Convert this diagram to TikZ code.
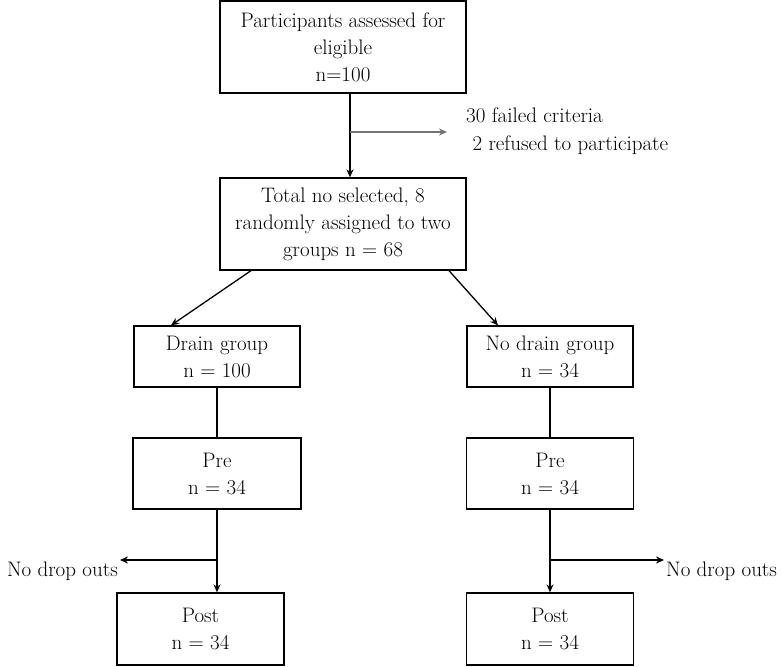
\documentclass[tikz,border=0pt]{standalone}
\usetikzlibrary{arrows.meta}
\usetikzlibrary{calc}

\begin{document}
\begin{tikzpicture}[x=1pt, y=-1pt, >={Stealth[length=8pt,width=7pt]},
  stage/.style={draw, line width=1.3pt, align=center, inner sep=0pt, font=\fontsize{21}{27}\selectfont},
  flow/.style={->, line width=1.3pt},
  side/.style={->, line width=1.3pt, draw=black!55},
  note/.style={align=left, inner sep=0pt, font=\fontsize{21}{28}\selectfont},
]
\useasboundingbox (0,0) rectangle (783,666);
\node[stage, minimum width=246pt, minimum height=92pt] (assess) at (343, 47)  {Participants assessed for\\ eligible\\ n=100};
\node[stage, minimum width=246pt, minimum height=92pt] (random) at (343, 224) {Total no selected, 8\\ randomly assigned to two\\ groups n = 68};
\node[stage, minimum width=166pt, minimum height=61pt] (drain) at (217, 356.5)  {Drain group\\ n = 100};
\node[stage, minimum width=166pt, minimum height=61pt] (nodrain) at (550, 356.5) {No drain group\\ n = 34};
\node[stage, minimum width=168pt, minimum height=71pt] (preL) at (217, 473.5) {Pre\\ n = 34};
\node[stage, minimum width=167pt, minimum height=71pt] (preR) at (550, 473.5) {Pre\\ n = 34};
\node[stage, minimum width=167pt, minimum height=72pt] (postL) at (200.5, 629) {Post\\ n = 34};
\node[stage, minimum width=167pt, minimum height=72pt] (postR) at (550, 629) {Post\\ n = 34};
% exclusions and drop outs
\coordinate (split) at (350, 132);
\coordinate (excl) at (447, 132);
\node[note, anchor=west] (why) at (466, 131) {30 failed criteria\\ \ 2 refused to participate};
\coordinate (dropL) at (217, 560);
\coordinate (dropLend) at (120, 560);
\coordinate (dropR) at (550, 560);
\coordinate (dropRend) at (664, 560);
\node[note, anchor=east] (outL) at (118, 571) {No drop outs};
\node[note, anchor=west] (outR) at (666, 571) {No drop outs};
 \draw [flow] ([xshift=7pt]assess.south)--([xshift=7pt]random.north);
 \draw [side] (split)--(excl);
  \draw [flow] ([xshift=-92pt]random.south)--([xshift=-46pt]drain.north);
  \draw [flow] ([xshift=106pt]random.south)--([xshift=-52pt]nodrain.north);
   \draw [line width=1.3pt] (drain)--(preL);
   \draw [line width=1.3pt] (nodrain)--(preR);
  \draw [flow] (preL)--([xshift=16.5pt]postL.north);
  \draw [flow] (preR)--(postR);
   \draw [flow] (dropL)--(dropLend);
   \draw [flow] (dropR)--(dropRend);
\end{tikzpicture}
\end{document}
